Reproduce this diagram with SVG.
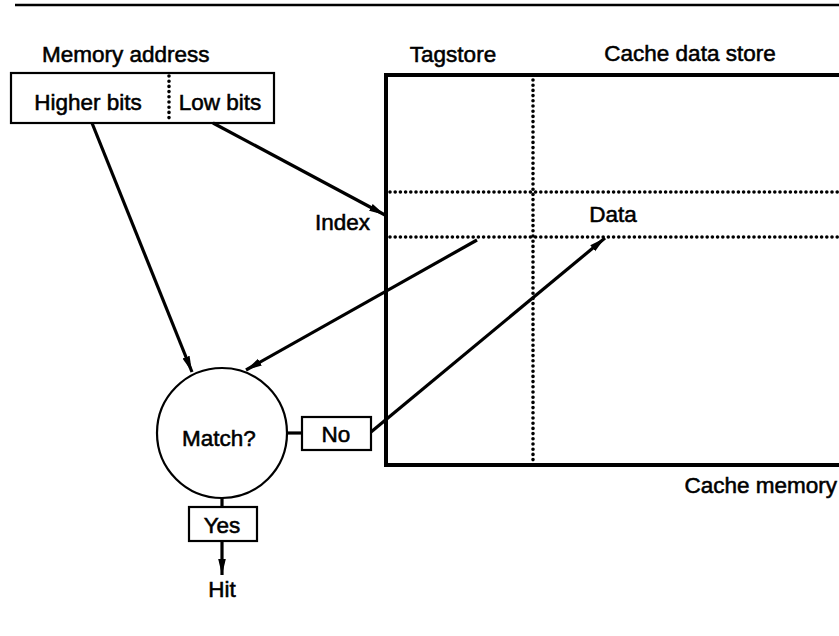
<svg xmlns="http://www.w3.org/2000/svg" width="839" height="636" viewBox="0 0 839 636">
  <style>
    text { font-family: "Liberation Sans", Arial, sans-serif; font-size: 22.5px; fill: #000; stroke: #000; stroke-width: 0.55px; }
    .c { text-anchor: middle; }
    .box { fill: #fff; stroke: #000; stroke-width: 2.2; }
    .dot { stroke: #000; stroke-width: 3.6; stroke-dasharray: 0 5.2; stroke-linecap: round; fill: none; }
    .wire { stroke: #000; stroke-width: 3.2; fill: none; }
  </style>
  <defs>
    <marker id="arrow" markerUnits="userSpaceOnUse" markerWidth="18" markerHeight="10" refX="16" refY="5" orient="auto">
      <path d="M0,1.2 L16,5 L0,8.8 Z" fill="#000"/>
    </marker>
  </defs>
  <rect width="839" height="636" fill="#fff"/>

  <!-- header rule -->
  <line x1="15" y1="5" x2="839" y2="5" stroke="#000" stroke-width="2.5"/>

  <!-- address register -->
  <g id="memory-address">
    <text x="42" y="62">Memory address</text>
    <rect class="box" x="11" y="73" width="263" height="50"/>
    <line class="dot" x1="169" y1="76" x2="169" y2="121"/>
    <text x="88" y="110" class="c">Higher bits</text>
    <text x="220" y="110" class="c">Low bits</text>
  </g>

  <!-- cache memory block -->
  <g id="cache-memory">
    <text x="453" y="62" class="c">Tagstore</text>
    <text x="690" y="61" class="c">Cache data store</text>
    <path d="M839,75 L386,75 L386,465 L839,465" fill="none" stroke="#000" stroke-width="4"/>
    <line class="dot" x1="533" y1="80" x2="533" y2="460"/>
    <line class="dot" x1="390" y1="192" x2="839" y2="192"/>
    <line class="dot" x1="390" y1="237" x2="839" y2="237"/>
    <text x="370" y="230" text-anchor="end">Index</text>
    <text x="613" y="222" class="c">Data</text>
    <text x="837" y="493" text-anchor="end">Cache memory</text>
  </g>

  <!-- comparator -->
  <g id="match">
    <circle cx="222" cy="433" r="65" fill="#fff" stroke="#000" stroke-width="2.2"/>
    <text x="219" y="446" class="c">Match?</text>
  </g>

  <g id="no">
    <rect class="box" x="302" y="417" width="69" height="33"/>
    <text x="336" y="442" class="c">No</text>
  </g>

  <g id="yes">
    <rect class="box" x="189" y="507" width="68" height="34"/>
    <text x="222" y="533" class="c">Yes</text>
  </g>

  <g id="hit">
    <text x="222" y="597" class="c">Hit</text>
  </g>

  <!-- connectors -->
  <g id="connectors">
    <line class="wire" x1="213" y1="123" x2="385" y2="215" marker-end="url(#arrow)"/>
    <line class="wire" x1="92" y1="123" x2="192" y2="372" marker-end="url(#arrow)"/>
    <line class="wire" x1="477" y1="240" x2="246" y2="370" marker-end="url(#arrow)"/>
    <line class="wire" x1="371" y1="432" x2="605" y2="238" marker-end="url(#arrow)"/>
    <line class="wire" x1="287" y1="433" x2="302" y2="433"/>
    <line class="wire" x1="222" y1="498" x2="222" y2="507"/>
    <line class="wire" x1="222" y1="541" x2="222" y2="575" marker-end="url(#arrow)"/>
  </g>
</svg>
